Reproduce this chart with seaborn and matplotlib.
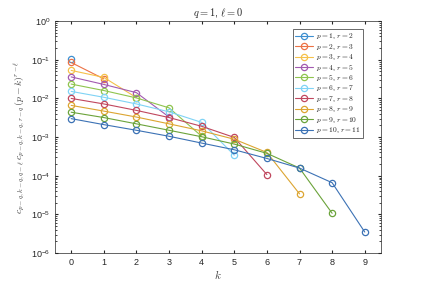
import matplotlib
matplotlib.use("Agg")
import matplotlib.pyplot as plt
import numpy as np
import pandas as pd
import seaborn as sns

# values, one list per p (k = 0 .. p-1)
p_values = [1, 2, 3, 4, 5, 6, 7, 8, 9, 10]
r_values = [2, 3, 4, 5, 6, 7, 8, 9, 10, 11]
series = [
    [0.102],
    [0.085, 0.032],
    [0.053, 0.035, 0.0105],
    [0.036, 0.023, 0.0141, 0.0033],
    [0.0235, 0.016, 0.0103, 0.0057, 0.00105],
    [0.0152, 0.0107, 0.0072, 0.0045, 0.0024, 0.00034],
    [0.010, 0.0072, 0.0049, 0.0032, 0.0019, 0.00098, 0.000107],
    [0.0066, 0.0047, 0.0033, 0.0022, 0.00145, 0.00088, 0.00040, 0.000034],
    [0.0044, 0.0032, 0.0022, 0.0015, 0.00102, 0.00066, 0.00038, 0.000158, 0.0000107],
    [0.0030, 0.0021, 0.0015, 0.00105, 0.00070, 0.00047, 0.00028, 0.000158, 0.000066, 0.0000035],
]
# matlab-like line colours, slightly lighter for the first seven
colors = ["#3D8FD0", "#EC7245", "#F5C14A", "#A25AB0", "#8FC44E", "#7FD3F5",
          "#C0475E", "#DCA531", "#6BA33A", "#3C72B5"]

rows = []
for p, r, vals in zip(p_values, r_values, series):
    label = f"$p = {p}$, $r = {r}$"
    for k, v in enumerate(vals):
        rows.append({"k": k, "val": v, "series": label})
df = pd.DataFrame(rows)
labels = [f"$p = {p}$, $r = {r}$" for p, r in zip(p_values, r_values)]

sns.set_style("ticks")
plt.rcParams["font.family"] = ["Liberation Sans", "DejaVu Sans"]
plt.rcParams["mathtext.fontset"] = "cm"

fig = plt.figure(figsize=(4.22, 2.85), dpi=100)
ax = fig.add_axes([0.13, 0.112, 0.773, 0.814])

sns.lineplot(data=df, x="k", y="val", hue="series", hue_order=labels,
             palette=dict(zip(labels, colors)), marker="o", markersize=4.5,
             markerfacecolor="none", markeredgewidth=0.9, linewidth=0.8,
             ax=ax, legend=True)
for line, c in zip(ax.get_lines(), colors):
    line.set_markeredgecolor(c)

ax.set_yscale("log")
ax.set_ylim(1e-6, 1)
ax.set_xlim(-0.5, 9.5)
ax.set_xticks(range(10))
ax.set_yticks([1e-6, 1e-5, 1e-4, 1e-3, 1e-2, 1e-1, 1e0])
ax.tick_params(which="both", direction="in", top=True, right=True,
               labelsize=6.5, colors="#262626", length=2.5)
ax.tick_params(which="minor", length=1.5)
for s in ax.spines.values():
    s.set_color("#262626")
    s.set_linewidth(0.5)

ax.set_xlabel("$k$", fontsize=8, color="#404040", labelpad=1)
ax.set_ylabel(r"$c_{p-q,k-q,q-\ell}\,c_{p-q,k-q,r-q}\,(p-k)^{r-\ell}$",
              fontsize=7, color="#404040", labelpad=2)
ax.set_title(r"$q = 1$, $\ell = 0$", fontsize=7.5, color="#262626", pad=4)

handles, _ = ax.get_legend_handles_labels()
for h, c in zip(handles, colors):
    h.set_markerfacecolor("none")
    h.set_markeredgecolor(c)
leg = ax.legend(handles, labels, loc="upper right", fontsize=5.4,
                frameon=True, fancybox=False, edgecolor="#262626",
                borderpad=0.3, labelspacing=0.06, handlelength=2.4,
                handletextpad=0.4, borderaxespad=0,
                bbox_to_anchor=(0.945, 0.966))
leg.get_frame().set_linewidth(0.6)

fig.savefig("out.png", dpi=100)
